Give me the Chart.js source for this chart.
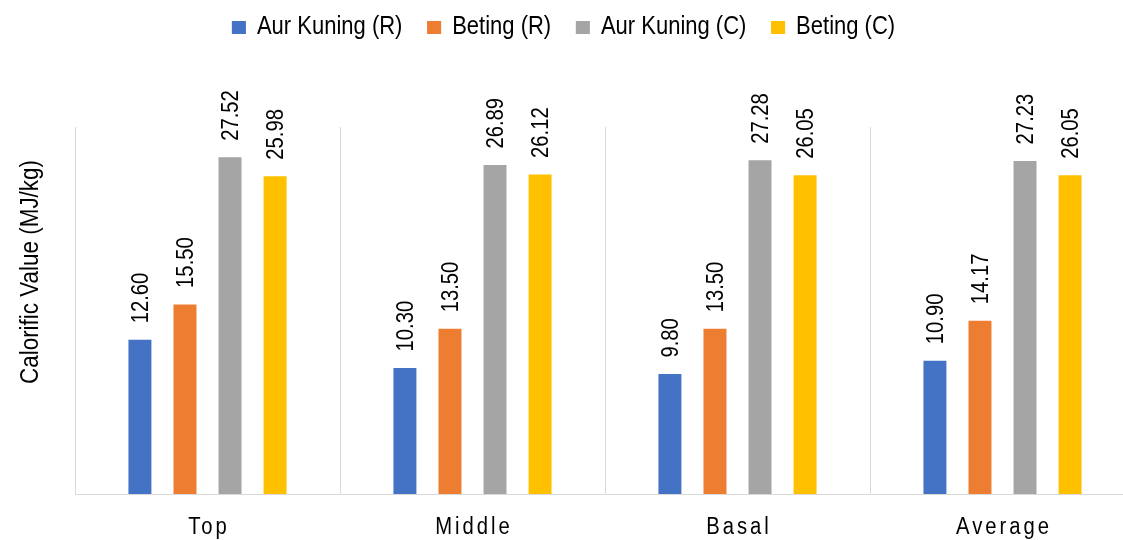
<!DOCTYPE html>
<html>
<head>
<meta charset="utf-8">
<script src="https://cdn.jsdelivr.net/npm/chart.js@4/dist/chart.umd.min.js"></script>
<style>
  html, body { margin: 0; padding: 0; background: #fff; overflow: hidden; }
  #wrap { width: 1135px; height: 540px; }
</style>
</head>
<body>
<div id="wrap"><canvas id="chart" width="1135" height="540"></canvas></div>
<script>
// --- Data ---
const categories = ['Top', 'Middle', 'Basal', 'Average'];
const aurKuningR = [12.60, 10.30, 9.80, 10.90];
const betingR = [15.50, 13.50, 13.50, 14.17];
const aurKuningC = [27.52, 26.89, 27.28, 27.23];
const betingC = [25.98, 26.12, 26.05, 26.05];
const yTitle = 'Calorific Value (MJ/kg)';

const FONT = '"Liberation Sans", Arial, sans-serif';
const NARROW = 0.88; // the original font runs narrower than Arial

// rotated value labels above each bar
const barLabels = {
    id: 'barLabels',
    afterDatasetsDraw(chart) {
        const ctx = chart.ctx;
        const size = 23;
        chart.data.datasets.forEach((ds, i) => {
            chart.getDatasetMeta(i).data.forEach((bar, j) => {
                ctx.save();
                ctx.translate(bar.x + size * 0.358, bar.y - 16.5);
                ctx.rotate(-Math.PI / 2);
                ctx.scale(NARROW, 1);
                ctx.font = size + 'px ' + FONT;
                ctx.fillStyle = '#000';
                ctx.textAlign = 'left';
                ctx.textBaseline = 'alphabetic';
                ctx.fillText(ds.data[j].toFixed(2), 0, 0);
                ctx.restore();
            });
        });
    }
};

// spaced category labels + y title
const axisText = {
    id: 'axisText',
    afterDraw(chart) {
        const ctx = chart.ctx;
        const x = chart.scales.x;
        categories.forEach((c, i) => {
            ctx.save();
            ctx.translate(x.getPixelForValue(i) + 1.5, 534);
            ctx.scale(NARROW, 1);
            ctx.font = '23px ' + FONT;
            ctx.letterSpacing = '3.4px';
            ctx.fillStyle = '#000';
            ctx.textAlign = 'center';
            ctx.textBaseline = 'alphabetic';
            ctx.fillText(c, 0, 0);
            ctx.restore();
        });

        ctx.save();
        ctx.translate(38, 272);
        ctx.rotate(-Math.PI / 2);
        ctx.scale(NARROW, 1);
        ctx.font = '25.5px ' + FONT;
        ctx.fillStyle = '#000';
        ctx.textAlign = 'center';
        ctx.textBaseline = 'alphabetic';
        ctx.fillText(yTitle, 0, 0);
        ctx.restore();
    }
};

// room below the legend, and a narrower legend font
const legendTweak = {
    id: 'legendTweak',
    beforeInit(chart) {
        const legend = chart.legend;
        const fit = legend.fit;
        legend.fit = function () {
            fit.bind(legend)();
            this.height = 127;
        };
        const draw = legend.draw;
        legend.draw = function () {
            const ctx = chart.ctx;
            const mid = chart.width / 2;
            ctx.save();
            ctx.translate(563.5 - mid * NARROW, -13);
            ctx.scale(NARROW, 1);
            draw.apply(legend, arguments);
            ctx.restore();
        };
    }
};

new Chart(document.getElementById('chart'), {
    type: 'bar',
    data: {
        labels: categories,
        datasets: [
            { label: 'Aur Kuning (R)', data: aurKuningR, backgroundColor: '#4472C4' },
            { label: 'Beting (R)', data: betingR, backgroundColor: '#ED7D31' },
            { label: 'Aur Kuning (C)', data: aurKuningC, backgroundColor: '#A5A5A5' },
            { label: 'Beting (C)', data: betingC, backgroundColor: '#FFC000' }
        ]
    },
    options: {
        responsive: false,
        animation: false,
        categoryPercentage: 0.68,
        barPercentage: 0.51,
        layout: { padding: 0 },
        scales: {
            x: {
                grid: { color: '#d9d9d9', lineWidth: 1, drawTicks: false, offset: true },
                border: { color: '#d9d9d9', width: 1 },
                ticks: { display: false },
                afterFit: (s) => { s.height = 46; }
            },
            y: {
                min: 0,
                max: 30,
                grid: { display: false },
                border: { color: '#d9d9d9', width: 1 },
                ticks: { display: false },
                afterFit: (s) => { s.width = 75; }
            }
        },
        plugins: {
            legend: {
                position: 'top',
                labels: {
                    boxWidth: 16,
                    boxHeight: 13,
                    padding: 28,
                    color: '#000',
                    font: { size: 25, family: FONT }
                }
            },
            tooltip: { enabled: false }
        }
    },
    plugins: [barLabels, axisText, legendTweak]
});
</script>
</body>
</html>
